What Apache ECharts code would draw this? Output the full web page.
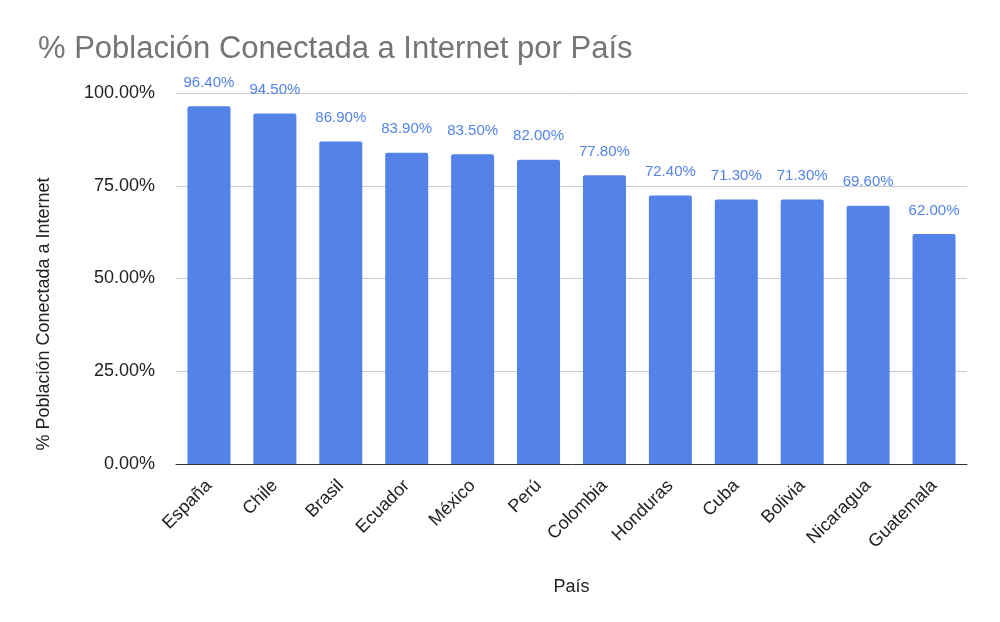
<!DOCTYPE html>
<html>
<head>
<meta charset="utf-8">
<script src="https://cdn.jsdelivr.net/npm/echarts@6/dist/echarts.min.js"></script>
<style>
  html, body { margin: 0; padding: 0; background: #fff; }
  #chart { width: 1000px; height: 622px; }
</style>
</head>
<body>
<div id="chart"></div>
<script>
// países
const paises = ["España", "Chile", "Brasil", "Ecuador", "México", "Perú",
  "Colombia", "Honduras", "Cuba", "Bolivia", "Nicaragua", "Guatemala"];
// % población conectada
const valores = [96.4, 94.5, 86.9, 83.9, 83.5, 82.0, 77.8, 72.4, 71.3, 71.3, 69.6, 62.0];

const fuente = "'Liberation Sans', Arial, Helvetica, sans-serif";
const azul = "#5383e9";
const chart = echarts.init(document.getElementById("chart"));

chart.setOption({
  textStyle: { fontFamily: fuente },
  title: {
    text: "% Población Conectada a Internet por País",
    left: 33,
    top: 29,
    textStyle: { fontSize: 31, fontWeight: "normal", color: "#757575", fontFamily: fuente },
  },
  // nombre del eje y, algo más abajo que el centro del área
  graphic: {
    type: "text",
    x: 44,
    y: 314,
    rotation: Math.PI / 2,
    style: {
      text: "% Población Conectada a Internet",
      font: "18px " + fuente,
      fill: "#222",
      textAlign: "center",
      textVerticalAlign: "middle",
    },
  },
  grid: { left: 176, right: 33, top: 93, bottom: 158 },
  xAxis: {
    type: "category",
    data: paises,
    name: "País",
    nameLocation: "middle",
    nameGap: 114,
    nameTextStyle: { fontSize: 18, color: "#222" },
    axisLine: { lineStyle: { color: "#333", width: 1 } },
    axisTick: { show: false },
    axisLabel: { rotate: 45, fontSize: 18, color: "#222", margin: 19, interval: 0 },
  },
  yAxis: {
    type: "value",
    min: 0,
    max: 100,
    interval: 25,
    axisLine: { show: false },
    axisTick: { show: false },
    axisLabel: {
      fontSize: 18,
      color: "#222",
      margin: 21,
      formatter: (v) => v.toFixed(2) + "%",
    },
    splitLine: { lineStyle: { color: "#ccc" } },
  },
  series: [
    {
      type: "bar",
      data: valores,
      barWidth: 43,
      itemStyle: { color: azul, borderRadius: [2, 2, 0, 0] },
      label: {
        show: true,
        position: "top",
        distance: 16,
        fontSize: 15,
        color: azul,
        formatter: (p) => p.value.toFixed(2) + "%",
      },
    },
  ],
});
</script>
</body>
</html>
